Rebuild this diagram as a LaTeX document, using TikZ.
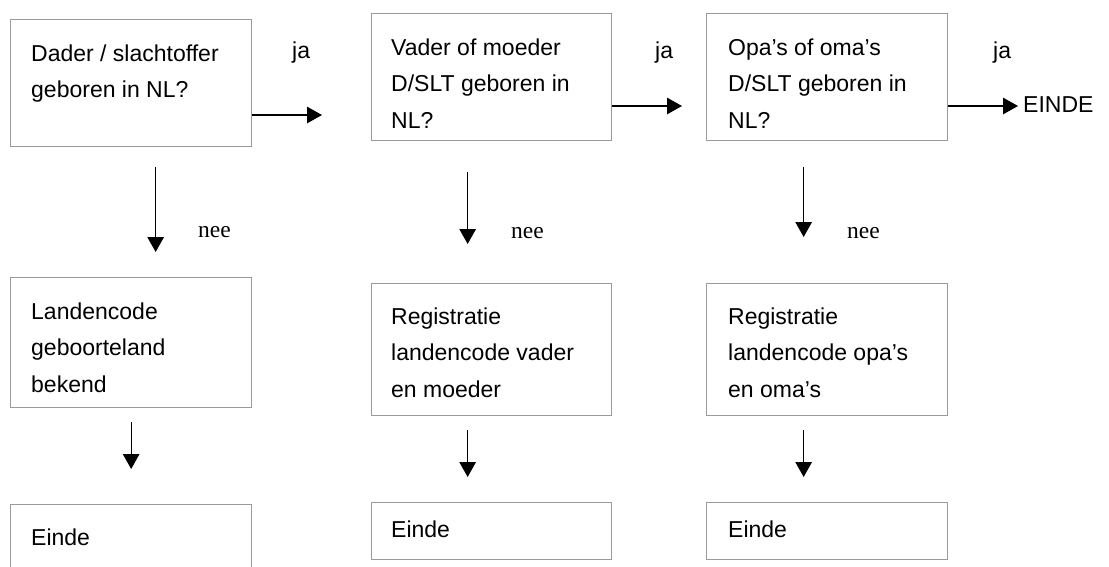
\documentclass[tikz,border=0pt]{standalone}
\usepackage{fontspec}
\setmainfont{Liberation Sans}
\newfontfamily\serifnee{Liberation Serif}
\usetikzlibrary{arrows.meta}
\definecolor{boxgray}{RGB}{155,155,155}
\tikzset{
  box/.style={draw=boxgray, line width=1.3pt, anchor=north west, inner sep=0pt, minimum width=241pt},
  txt/.style={font=\fontsize{23}{36.5}\selectfont, align=left, anchor=base west, inner sep=0pt},
  lbl/.style={font=\fontsize{23}{27}\selectfont, anchor=base west, inner sep=0pt},
  neelbl/.style={font=\serifnee\fontsize{23.5}{27}\selectfont, anchor=base west, inner sep=0pt},
  arr/.style={line width=1.3pt, -{Triangle[width=16.5pt,length=15pt]}}
}
\begin{document}
\begin{tikzpicture}[x=1pt,y=-1pt]
\clip (0,0) rectangle (1109,566);
\fill[white] (0,0) rectangle (1109,566);
% column 1
\node[box, minimum height=127pt] (b1) at (10,19) {};
\node[box, minimum height=130pt] (m1) at (10,277) {};
\node[box, minimum height=120pt] (e1) at (10,504) {};
\node[txt] (t1) at (31,97.5) {Dader / slachtoffer\\geboren in NL?};
\node[txt] (tm1) at (31,392) {Landencode\\geboorteland\\bekend};
\node[txt] (te1) at (31,545) {Einde};
% column 2
\node[box, minimum width=240pt, minimum height=127pt] (b2) at (371,13) {};
\node[box, minimum width=240pt, minimum height=132pt] (m2) at (371,283) {};
\node[box, minimum width=240pt, minimum height=57pt] (e2) at (371,502) {};
\node[txt] (t2) at (391,128) {Vader of moeder\\D/SLT geboren in\\NL?};
\node[txt] (tm2) at (391,397) {Registratie\\landencode vader\\en moeder};
\node[txt] (te2) at (391,537) {Einde};
% column 3
\node[box, minimum height=127pt] (b3) at (706,13) {};
\node[box, minimum height=132pt] (m3) at (706,283) {};
\node[box, minimum height=57pt] (e3) at (706,502) {};
\node[txt] (t3) at (728,128) {Opa’s of oma’s\\D/SLT geboren in\\NL?};
\node[txt] (tm3) at (728,397) {Registratie\\landencode opa’s\\en oma’s};
\node[txt] (te3) at (728,537) {Einde};
% end label
\node[lbl] (einde) at (1023,112) {EINDE};
% ja labels
\node[lbl] (ja1) at (292,58) {ja};
\node[lbl] (ja2) at (655,58) {ja};
\node[lbl] (ja3) at (993,58) {ja};
% nee labels
\node[neelbl] (nee1) at (198,237) {nee};
\node[neelbl] (nee2) at (511,238) {nee};
\node[neelbl] (nee3) at (847,238) {nee};
% free arrow ends
\coordinate (j1) at (322,115);
\coordinate (j2) at (682,106);
\coordinate (j3) at (1018,106);
% ja arrows
\draw[arr] (b1.east |- j1) -- (j1);
\draw[arr] (b2.east |- j2) -- (j2);
\draw[arr] (b3.east |- j3) -- (j3);
% nee arrows
\draw[arr, shorten <=20pt, shorten >=25pt] ([xshift=24.5pt]b1.south) -- ([xshift=24.5pt]m1.north);
\draw[arr, shorten <=31pt, shorten >=39pt] ([xshift=-24pt]b2.south) -- ([xshift=-24pt]m2.north);
\draw[arr, shorten <=26pt, shorten >=46pt] ([xshift=-23.5pt]b3.south) -- ([xshift=-23.5pt]m3.north);
% to Einde
\draw[arr, shorten <=14pt, shorten >=35pt] (m1.south) -- (e1.north);
\draw[arr, shorten <=14pt, shorten >=25pt] ([xshift=-24pt]m2.south) -- ([xshift=-24pt]e2.north);
\draw[arr, shorten <=14pt, shorten >=25pt] ([xshift=-23.5pt]m3.south) -- ([xshift=-23.5pt]e3.north);
\end{tikzpicture}
\end{document}
